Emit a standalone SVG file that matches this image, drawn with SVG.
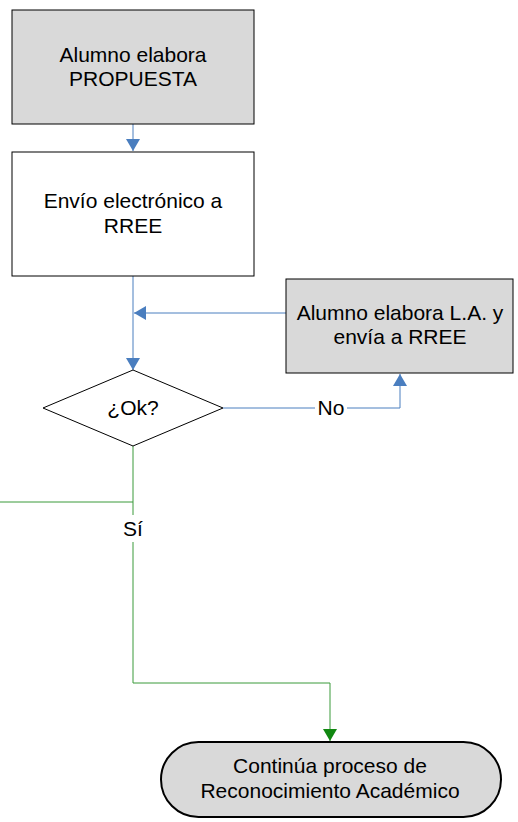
<svg xmlns="http://www.w3.org/2000/svg" width="518" height="822" viewBox="0 0 518 822">
<style>
.box{fill:#d9d9d9;stroke:#000;stroke-width:1}
.wbox{fill:#fff;stroke:#000;stroke-width:1}
.t{font-family:"Liberation Sans",Arial,sans-serif;font-size:21px;fill:#000;text-anchor:middle}
.blue{stroke:#4a7ebf;stroke-width:1;fill:none}
.green{stroke:#3a9a3a;stroke-width:1;fill:none}
</style>
<defs>
<marker id="ab" markerWidth="12" markerHeight="14" refX="12" refY="7" orient="auto" markerUnits="userSpaceOnUse"><path d="M0,0 L12,7 L0,14 Z" fill="#4a7ebf"/></marker>
<marker id="ag" markerWidth="12" markerHeight="14" refX="12" refY="7" orient="auto" markerUnits="userSpaceOnUse"><path d="M0,0 L12,7 L0,14 Z" fill="#118811"/></marker>
</defs>
<g id="connectors">
<path class="blue" d="M133,124 V151" marker-end="url(#ab)"/>
<path class="blue" d="M133,276 V370" marker-end="url(#ab)"/>
<path class="blue" d="M286,313 H134" marker-end="url(#ab)"/>
<path class="blue" d="M223,408 H400 V374" marker-end="url(#ab)"/>
<path class="green" d="M0,502 H133"/>
<path class="green" d="M133,446 V683 H330 V741" marker-end="url(#ag)"/>
<rect x="315" y="396" width="32" height="24" fill="#fff"/>
<text class="t" x="331" y="415">No</text>
<rect x="120" y="515" width="26" height="27" fill="#fff"/>
<text class="t" x="133" y="536">Sí</text>
</g>
<g id="n1">
<rect class="box" x="12" y="10" width="242" height="114"/>
<text class="t" x="133" y="62">Alumno elabora</text>
<text class="t" x="133" y="86">PROPUESTA</text>
</g>
<g id="n2">
<rect class="wbox" x="12" y="152" width="242" height="124"/>
<text class="t" x="133" y="208">Envío electrónico a</text>
<text class="t" x="133" y="233">RREE</text>
</g>
<g id="n3">
<rect class="box" x="286" y="279" width="227" height="94"/>
<text class="t" x="400" y="320">Alumno elabora L.A. y</text>
<text class="t" x="400" y="344">envía a RREE</text>
</g>
<g id="n4">
<polygon points="133,370 223,408 133,446 43,408" fill="#fff" stroke="#000" stroke-width="1"/>
<text class="t" x="133" y="415">¿Ok?</text>
</g>
<g id="n5">
<rect x="161" y="742" width="340" height="75" rx="37.5" ry="37.5" fill="#d9d9d9" stroke="#000" stroke-width="2"/>
<text class="t" x="330" y="773">Continúa proceso de</text>
<text class="t" x="330" y="798">Reconocimiento Académico</text>
</g>
</svg>
